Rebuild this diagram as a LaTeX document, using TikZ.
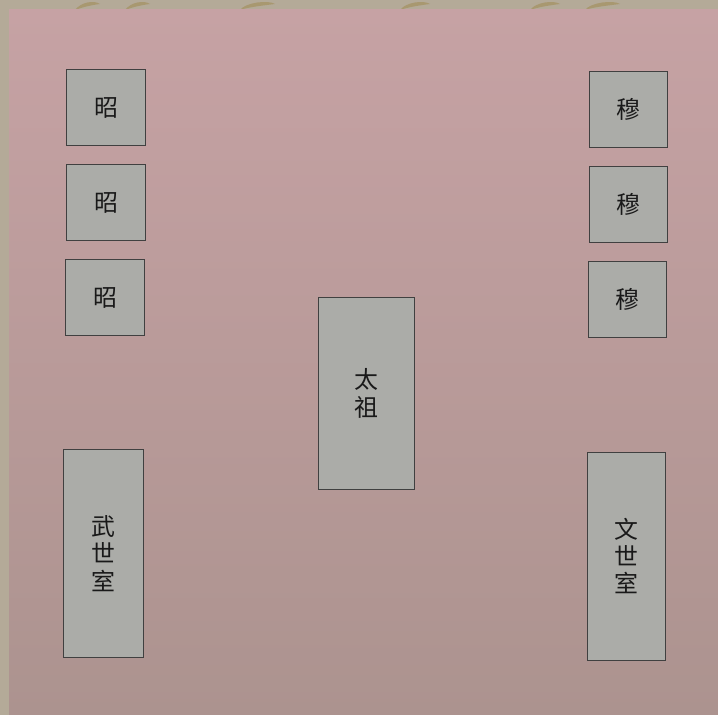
\documentclass[tikz,border=0pt]{standalone}
\usepackage{fontspec}
\newfontfamily\cjk{Noto Sans CJK SC}
\definecolor{frame}{RGB}{180,170,152}
\definecolor{olive}{RGB}{168,152,112}
\definecolor{pinktop}{RGB}{198,162,164}
\definecolor{pinkbot}{RGB}{172,147,143}
\definecolor{tablet}{RGB}{171,172,168}

\begin{document}
\begin{tikzpicture}[x=0.025cm, y=-0.025cm,
	every node/.style={font=\cjk\fontsize{17}{19.5}\selectfont, text=black!90},
	tablet/.style={draw=black!75, line width=0.6pt, fill=tablet, inner sep=0pt, align=center}]
	\useasboundingbox (0,0) rectangle (718,715);
	\fill[frame] (0,0) rectangle (718,715);
	% olive ornament along the top edge
	\foreach \a/\b in {75/100, 125/150, 240/275, 400/430, 530/560, 585/620} {
		\fill[olive] (\a,10) .. controls (\a+6,2) and (\b-6,0) .. (\b,4) .. controls (\b-8,5) and (\a+8,7) .. (\a,10) -- cycle;
	}
	\shade[top color=pinktop, bottom color=pinkbot] (9,10) rectangle (718,715);
	% zhao row (left) and mu row (right)
	\foreach \n/\x/\y in {1/106/107.5, 2/106/202.5, 3/105/297.5} {
		\node[tablet, minimum width=1.98cm, minimum height=1.9cm] (zhao\n) at (\x,\y) {昭};
	}
	\foreach \n/\x/\y in {1/628/109, 2/628/204.5, 3/627/299} {
		\node[tablet, minimum width=1.95cm, minimum height=1.9cm] (mu\n) at (\x,\y) {穆};
	}
	\node[tablet, minimum width=2.42cm, minimum height=4.78cm] (taizu) at (366.5,393.5) {太\\祖};
	\node[tablet, minimum width=1.98cm, minimum height=5.18cm] (wushi) at (103.5,553.5) {武\\世\\室};
	\node[tablet, minimum width=1.95cm, minimum height=5.2cm] (wenshi) at (626,556) {文\\世\\室};
\end{tikzpicture}
\end{document}
